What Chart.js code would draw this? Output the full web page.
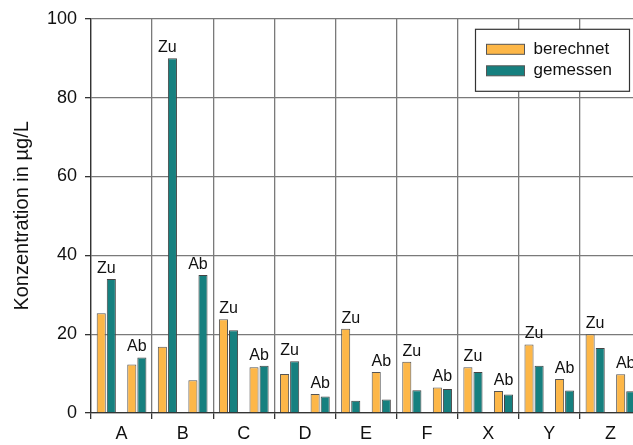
<!DOCTYPE html>
<html>
<head>
<meta charset="utf-8">
<script src="https://cdn.jsdelivr.net/npm/chart.js@4/dist/chart.umd.min.js"></script>
<style>
  html, body { margin: 0; padding: 0; background: #fff; overflow: hidden; width: 633px; height: 445px; }
  canvas { display: block; }
</style>
</head>
<body>
<canvas id="c" width="643" height="445"></canvas>
<script>
const categories = ['A', 'B', 'C', 'D', 'E', 'F', 'X', 'Y', 'Z'];
const subLabels = ['Zu', 'Ab'];
const berechnet = [25.3, 12.3, 16.8, 8.3, 23.8, 11.6, 9.9, 4.8, 21.4, 10.4, 13.0, 6.5, 11.6, 5.6, 17.4, 8.6, 20.0, 9.8];
const gemessen  = [34.0, 14.1, 90.0, 35.0, 21.0, 12.0, 13.1, 4.2, 3.1, 3.4, 5.8, 6.1, 10.4, 4.7, 12.0, 5.7, 16.5, 5.5];
const yTitle = 'Konzentration in µg/L';

const subCats = [];
categories.forEach(c => subLabels.forEach(s => subCats.push(c + ' ' + s)));

const FONT = "'Liberation Sans', Arial, sans-serif";
const AXIS = '#333333';
const GRID = '#7a7a7a';

const pairLabels = {
  id: 'pairLabels',
  afterDatasetsDraw(chart) {
    const ctx = chart.ctx, xs = chart.scales.x, ys = chart.scales.y;
    ctx.save();
    ctx.font = '16px ' + FONT;
    ctx.fillStyle = '#111';
    ctx.textAlign = 'center';
    ctx.textBaseline = 'alphabetic';
    subCats.forEach((name, i) => {
      const v = Math.max(berechnet[i], gemessen[i]);
      const x = xs.getPixelForValue(i);
      const y = ys.getPixelForValue(v) - 6;
      ctx.fillText(subLabels[i % 2], x, y);
    });
    ctx.restore();
  }
};

const boxLegend = {
  id: 'boxLegend',
  afterDraw(chart) {
    const ctx = chart.ctx, a = chart.chartArea;
    const bx = a.left + 384.5, by = a.top + 10.5, bw = 154, bh = 62;
    ctx.save();
    ctx.fillStyle = '#fff';
    ctx.fillRect(bx, by, bw, bh);
    ctx.strokeStyle = AXIS;
    ctx.lineWidth = 1.2;
    ctx.strokeRect(bx, by, bw, bh);
    ctx.lineWidth = 1;
    ctx.font = '17px ' + FONT;
    ctx.textBaseline = 'middle';
    ctx.textAlign = 'left';
    chart.data.datasets.forEach((ds, i) => {
      const sy = by + 15 + i * 21.5;
      ctx.fillStyle = ds.backgroundColor;
      ctx.fillRect(bx + 11, sy, 38, 10);
      ctx.strokeStyle = '#555';
      ctx.strokeRect(bx + 11, sy, 38, 10);
      ctx.fillStyle = '#111';
      ctx.fillText(ds.label, bx + 58, sy + 5);
    });
    ctx.restore();
  }
};

new Chart(document.getElementById('c'), {
  type: 'bar',
  data: {
    labels: subCats,
    datasets: [
      { label: 'berechnet', data: berechnet, backgroundColor: '#fdb748', borderColor: '#555555', borderWidth: 1, xAxisID: 'x' },
      { label: 'gemessen', data: gemessen, backgroundColor: '#16807f', borderColor: '#444444', borderWidth: 1, xAxisID: 'x' }
    ]
  },
  options: {
    responsive: false,
    animation: false,
    devicePixelRatio: 1,
    layout: { padding: { top: 18, left: 0, right: 2, bottom: 0 } },
    datasets: { bar: { categoryPercentage: 0.66, barPercentage: 0.9 } },
    plugins: { legend: { display: false }, tooltip: { enabled: false } },
    scales: {
      x: { display: false, offset: true },
      x2: {
        type: 'category',
        labels: categories,
        position: 'bottom',
        offset: true,
        grid: { offset: true, color: GRID, tickColor: AXIS, tickLength: 6, lineWidth: 1.3 },
        border: { display: true, color: AXIS, width: 1.3 },
        ticks: { color: '#111', font: { family: FONT, size: 18 }, padding: 4, maxRotation: 0, autoSkip: false },
        afterFit(s) { s.height = 32; }
      },
      y: {
        min: 0, max: 100,
        ticks: { stepSize: 20, color: '#111', font: { family: FONT, size: 18 }, padding: 8 },
        grid: { color: GRID, tickColor: AXIS, tickLength: 6, lineWidth: 1.3 },
        border: { display: true, color: AXIS, width: 1.3 },
        title: { display: true, text: yTitle, color: '#111', font: { family: FONT, size: 20 }, padding: { top: 10, bottom: 0 } },
        afterFit(s) { s.width = 91; }
      }
    }
  },
  plugins: [pairLabels, boxLegend]
});
</script>
</body>
</html>
